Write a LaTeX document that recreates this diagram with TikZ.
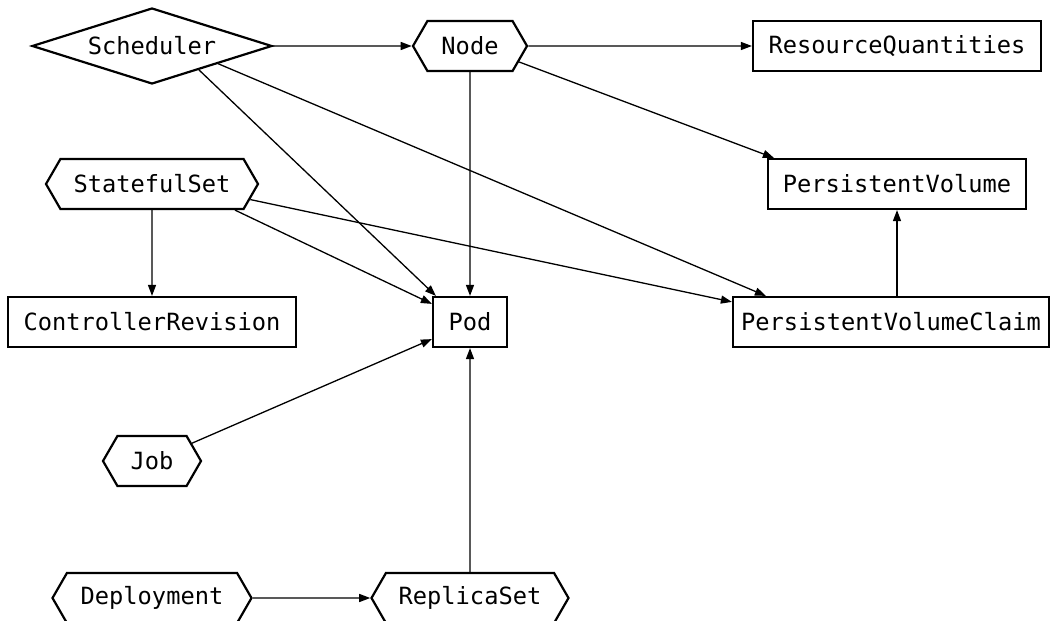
\documentclass[tikz,border=0pt]{standalone}
\usepackage{fontspec}
\setmonofont{DejaVu Sans Mono}
\usetikzlibrary{shapes.geometric,shapes.symbols,arrows.meta}
\begin{document}
\begin{tikzpicture}[x=1pt,y=-1pt,
  every node/.style={font=\ttfamily\fontsize{23.7}{28}\selectfont, inner sep=0pt},
  box/.style={draw, line width=2.2pt, rectangle, minimum height=50pt},
  hexa/.style={draw, line width=2.2pt, signal, signal to=west and east, signal pointer angle=120, minimum height=50pt},
  dia/.style={draw, line width=2.2pt, diamond, aspect=3.1, minimum width=240pt, minimum height=76pt},
  arr/.style={line width=1.3pt, -{Triangle[length=11pt,width=8pt]}}
]
\useasboundingbox (0,0) rectangle (1052,621);
\node[dia] (Sched) at (152,46) {Scheduler};
\node[hexa, minimum width=114pt] (Node) at (470,46) {Node};
\node[box, minimum width=288pt] (RQ) at (897,46) {ResourceQuantities};
\node[hexa, minimum width=212pt] (SS) at (152,184) {StatefulSet};
\node[box, minimum width=258pt] (PV) at (897,184) {PersistentVolume};
\node[box, minimum width=288pt] (CR) at (152,322) {ControllerRevision};
\node[box, minimum width=74pt] (Pod) at (470,322) {Pod};
\node[box, minimum width=316pt] (PVC) at (891,322) {PersistentVolumeClaim};
\node[hexa, minimum width=98pt] (Job) at (152,461) {Job};
\node[hexa, minimum width=199pt] (Dep) at (152,598) {Deployment};
\node[hexa, minimum width=197pt] (RS) at (470,598) {ReplicaSet};

\draw[arr] (Sched) -- (Node);
\draw[arr] (Node) -- (RQ);
\draw[arr] (Node) -- (Pod);
\draw[arr] (Node.-18) -- ([xshift=7pt]PV.north west);
\draw[arr] (Sched.-27) -- ([xshift=4pt]Pod.north west);
\draw[arr] (Sched.-15) -- ([xshift=34pt]PVC.north west);
\draw[arr] (SS) -- (CR);
\draw[arr] ([xshift=83pt]SS.south) -- ([yshift=-8pt]Pod.north west);
\draw[arr] (SS.-9) -- ([yshift=-6pt]PVC.north west);
\draw[arr] (PVC.north -| PV.south) -- (PV.south);
\draw[arr] (Job.24) -- ([yshift=9pt]Pod.south west);
\draw[arr] (RS) -- (Pod);
\draw[arr] (Dep) -- (RS);
\end{tikzpicture}
\end{document}
